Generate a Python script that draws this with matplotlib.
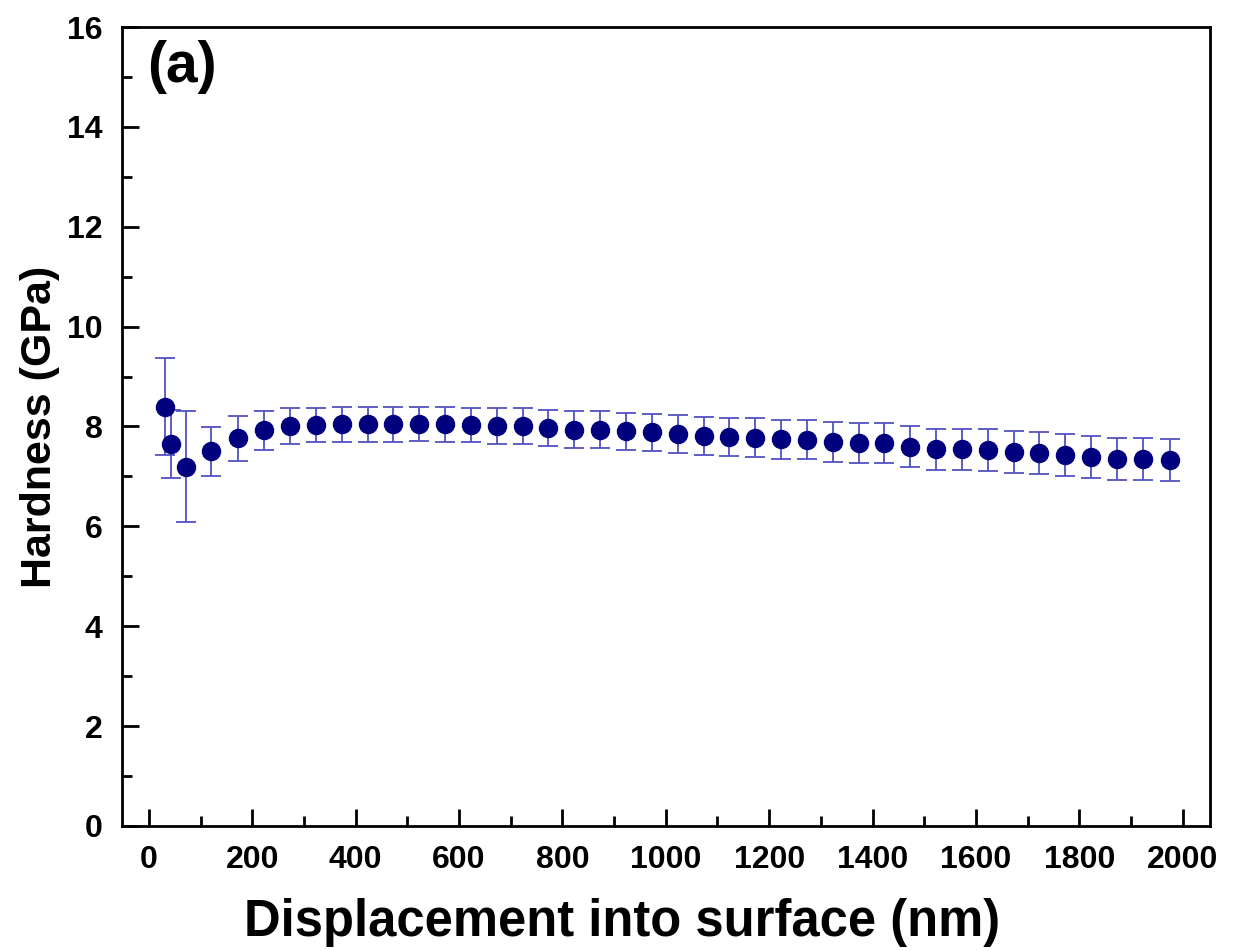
import matplotlib
matplotlib.use("Agg")
import matplotlib.pyplot as plt
from matplotlib.ticker import MultipleLocator

depth_nm = [31, 43, 71, 121, 173, 223, 273, 323, 373, 423, 473, 523, 573, 623, 673,
            723, 773, 823, 873, 923, 973, 1023, 1073, 1123, 1173, 1223, 1273, 1323,
            1373, 1423, 1473, 1523, 1573, 1623, 1673, 1723, 1773, 1823, 1873, 1923, 1975]
hardness = [8.40, 7.65, 7.19, 7.50, 7.76, 7.92, 8.00, 8.03, 8.04, 8.04, 8.04, 8.05,
            8.04, 8.03, 8.01, 8.01, 7.96, 7.93, 7.93, 7.90, 7.88, 7.84, 7.80, 7.78,
            7.77, 7.74, 7.73, 7.69, 7.67, 7.66, 7.59, 7.54, 7.54, 7.52, 7.49, 7.46,
            7.43, 7.39, 7.34, 7.34, 7.33]
hardness_err = [0.98, 0.68, 1.11, 0.49, 0.45, 0.39, 0.36, 0.35, 0.35, 0.35, 0.35,
                0.35, 0.35, 0.35, 0.36, 0.36, 0.36, 0.37, 0.37, 0.37, 0.37, 0.38,
                0.38, 0.38, 0.39, 0.39, 0.39, 0.40, 0.40, 0.40, 0.41, 0.41, 0.41,
                0.42, 0.42, 0.42, 0.42, 0.42, 0.42, 0.42, 0.42]

plt.rcParams['font.family'] = ['Liberation Sans', 'DejaVu Sans']
plt.rcParams['font.weight'] = 'bold'

fig = plt.figure(figsize=(12.34, 9.51), dpi=100)
ax = fig.add_axes([0.0989, 0.1315, 0.8817, 0.8401])

ax.errorbar(depth_nm, hardness, yerr=hardness_err, fmt='o', color='#00007f',
            markersize=13, ecolor='#5050c0', elinewidth=1.3, capsize=7,
            capthick=1.3, zorder=3)

ax.set_xlim(-52, 2053)
ax.set_ylim(0, 16)
ax.xaxis.set_major_locator(MultipleLocator(200))
ax.xaxis.set_minor_locator(MultipleLocator(100))
ax.yaxis.set_major_locator(MultipleLocator(2))
ax.yaxis.set_minor_locator(MultipleLocator(1))
ax.tick_params(which='major', direction='in', length=12, width=2, labelsize=23,
               top=False, right=False)
ax.tick_params(axis='x', which='major', pad=14)
ax.tick_params(axis='y', which='major', pad=14)
ax.tick_params(which='minor', direction='in', length=7, width=2, top=False, right=False)
for lab in ax.get_xticklabels() + ax.get_yticklabels():
    lab.set_fontweight('bold')
for s in ax.spines.values():
    s.set_linewidth(2)

ax.set_xlabel('Displacement into surface (nm)', fontsize=36.5, fontweight='bold', labelpad=16)
ax.xaxis.label.set_x(0.46)
ax.set_ylabel('Hardness (GPa)', fontsize=31, fontweight='bold', labelpad=5)
ax.text(0.023, 0.984, '(a)', transform=ax.transAxes, fontsize=41, fontweight='bold',
        va='top', ha='left')

fig.savefig('out.png', dpi=100)
